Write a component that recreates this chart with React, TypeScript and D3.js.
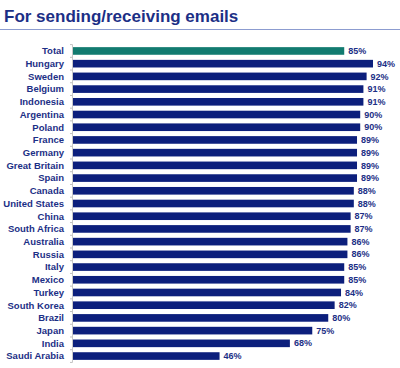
import React from "react";
import * as d3 from "d3";

const categories = ["Total","Hungary","Sweden","Belgium","Indonesia","Argentina","Poland","France","Germany","Great Britain","Spain","Canada","United States","China","South Africa","Australia","Russia","Italy","Mexico","Turkey","South Korea","Brazil","Japan","India","Saudi Arabia"];
const values = [85,94,92,91,91,90,90,89,89,89,89,88,88,87,87,86,86,85,85,84,82,80,75,68,46];
const title = "For sending/receiving emails";

export default function App() {
  const W = 400, H = 368;
  const x0 = 72.5;
  const x = d3.scaleLinear().domain([0, 94]).range([x0, 373]);
  const y = d3.scaleBand<string>().domain(categories).range([44.6, 362.4]).paddingInner(0.4).paddingOuter(0.2);
  const step = y.step();
  const font = "'Liberation Sans', Arial, sans-serif";
  const dark = "#1c2f86";
  return (
    <svg width={W} height={H} style={{ position: "absolute", left: 0, top: 0, background: "#fff" }}>
      <text x={4} y={22} fontFamily={font} fontWeight="bold" fontSize={17} fill={dark}>{title}</text>
      <line x1={0} x2={W} y1={29.5} y2={29.5} stroke="#8c9cd0" strokeWidth={1.2} />
      <line x1={x0} x2={x0} y1={44.6} y2={362.4} stroke="#c8c8c8" strokeWidth={1} />
      {d3.range(categories.length + 1).map(i => {
        const yy = 44.6 + i * step;
        return <line key={"t" + i} x1={x0 - 2.5} x2={x0} y1={yy} y2={yy} stroke="#c0c0c0" strokeWidth={1} />;
      })}
      {categories.map((c, i) => {
        const yc = (y(c) as number) + y.bandwidth() / 2;
        return (
          <g key={c}>
            <rect x={x(0) + 0.5} y={y(c)} width={x(values[i]) - x(0) - 0.5} height={y.bandwidth()} fill={i === 0 ? "#127b70" : "#0c1f7c"} />
            <text x={64} y={yc} dy="0.35em" textAnchor="end" fontFamily={font} fontWeight="bold" fontSize={9.5} fill={dark}>{c}</text>
            <text x={x(values[i]) + 4} y={yc} dy="0.35em" fontFamily={font} fontWeight="bold" fontSize={9} fill={dark}>{values[i] + "%"}</text>
          </g>
        );
      })}
    </svg>
  );
}
